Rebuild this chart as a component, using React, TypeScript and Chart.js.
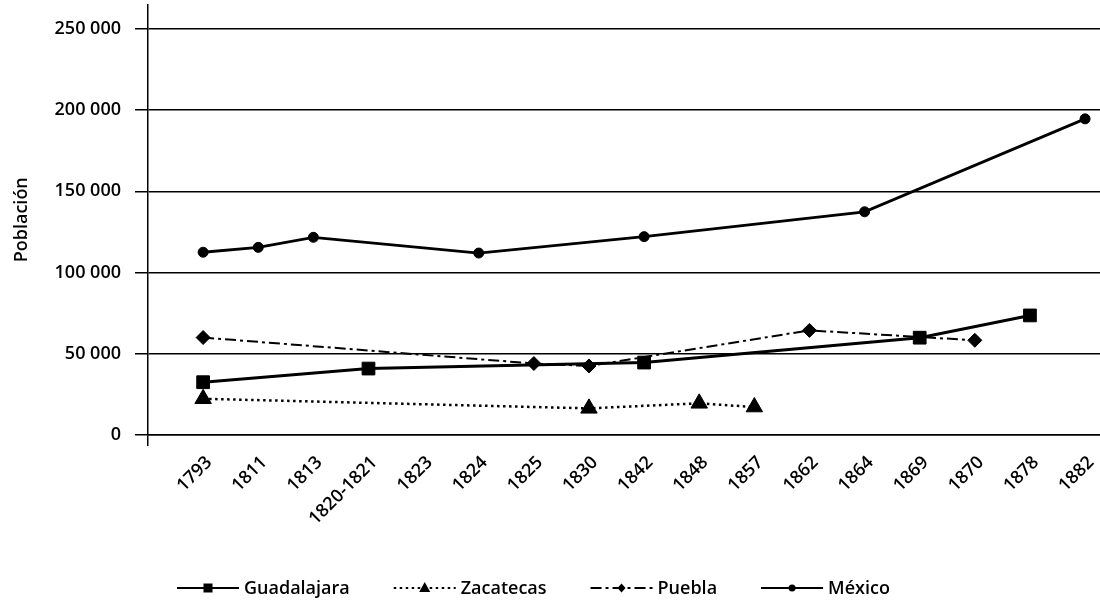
import React, { useEffect, useRef } from 'react';
import { Chart, registerables } from 'chart.js';

Chart.register(...registerables);

const categories = ['1793', '1811', '1813', '1820-1821', '1823', '1824', '1825', '1830', '1842', '1848', '1857', '1862', '1864', '1869', '1870', '1878', '1882'];

const guadalajara = [32500, null, null, 40900, null, null, null, null, 44600, null, null, null, null, 59900, null, 73600, null];
const zacatecas = [22300, null, null, null, null, null, null, 16400, null, 19500, 17200, null, null, null, null, null, null];
const puebla = [60000, null, null, null, null, null, 44000, 42500, null, null, null, 64400, null, null, 58300, null, null];
const mexico = [112500, 115500, 121700, null, null, 112000, null, null, 122100, null, null, null, 137400, null, null, null, 194600];

const seriesNames = ['Guadalajara', 'Zacatecas', 'Puebla', 'México'];
const yTicks = [0, 50000, 100000, 150000, 200000, 250000];
const yAxisTitle = 'Población';

const FONT = '"Open Sans", "Noto Sans", sans-serif';
const FONT_SIZE = 18;
const FONT_WEIGHT = '600';

// canvas is slightly larger than the 1100x605 frame and clipped by it
const CANVAS_W = 1111;
const CANVAS_H = 611;
const CANVAS_SHIFT_Y = -6;

type Sym = { dash: number[]; width: number; marker: 'rect' | 'triangle' | 'rectRot' | 'circle' };
const symbols: Sym[] = [
  { dash: [], width: 3, marker: 'rect' },
  { dash: [2.5, 3.5], width: 2.5, marker: 'triangle' },
  { dash: [11, 4, 3, 4], width: 2, marker: 'rectRot' },
  { dash: [], width: 2.8, marker: 'circle' },
];

function fmt(v: number): string {
  return String(v).replace(/\B(?=(\d{3})+(?!\d))/g, ' ');
}

function toPoints(arr: (number | null)[]) {
  return arr
    .map((v, i) => ({ x: i, y: v }))
    .filter((p) => p.y !== null) as { x: number; y: number }[];
}

function drawMarker(ctx: CanvasRenderingContext2D, kind: Sym['marker'], x: number, y: number) {
  ctx.beginPath();
  if (kind === 'rect') {
    ctx.rect(x - 4.5, y - 4.5, 9, 9);
  } else if (kind === 'triangle') {
    ctx.moveTo(x, y - 6);
    ctx.lineTo(x + 5.5, y + 4);
    ctx.lineTo(x - 5.5, y + 4);
    ctx.closePath();
  } else if (kind === 'rectRot') {
    ctx.moveTo(x, y - 4.5);
    ctx.lineTo(x + 4, y);
    ctx.lineTo(x, y + 4.5);
    ctx.lineTo(x - 4, y);
    ctx.closePath();
  } else {
    ctx.arc(x, y, 3.5, 0, Math.PI * 2);
  }
  ctx.fill();
}

const LEGEND_X = 177;
const LEGEND_Y = 588 - CANVAS_SHIFT_Y;
const SYMBOL_W = 62;
const TEXT_GAP = 5;
const ITEM_GAP = 44;

const refLegend = {
  id: 'refLegend',
  afterDraw(chart: any) {
    const ctx: CanvasRenderingContext2D = chart.ctx;
    ctx.save();
    ctx.font = `${FONT_WEIGHT} ${FONT_SIZE}px ${FONT}`;
    ctx.textBaseline = 'middle';
    ctx.textAlign = 'left';
    let x = LEGEND_X;
    chart.data.datasets.forEach((ds: any, i: number) => {
      const s = symbols[i];
      ctx.strokeStyle = '#000';
      ctx.fillStyle = '#000';
      ctx.lineWidth = Math.min(s.width, 2.2);
      ctx.setLineDash(s.dash);
      ctx.beginPath();
      ctx.moveTo(x, LEGEND_Y);
      ctx.lineTo(x + SYMBOL_W, LEGEND_Y);
      ctx.stroke();
      ctx.setLineDash([]);
      drawMarker(ctx, s.marker, x + SYMBOL_W / 2, LEGEND_Y);
      x += SYMBOL_W + TEXT_GAP;
      ctx.fillText(ds.label, x, LEGEND_Y + 1);
      x += ctx.measureText(ds.label).width + ITEM_GAP;
    });
    ctx.restore();
  },
};

export default function App() {
  const ref = useRef<HTMLCanvasElement | null>(null);

  useEffect(() => {
    if (!ref.current) return;
    Chart.defaults.font.family = FONT;
    Chart.defaults.font.size = FONT_SIZE;
    Chart.defaults.color = '#000';

    const seriesData = [guadalajara, zacatecas, puebla, mexico];
    const pointStyles = ['rect', 'triangle', 'rectRot', 'circle'];
    const pointRadii = [9, 9.5, 7, 5];
    const tickFont = { size: FONT_SIZE, family: FONT, weight: FONT_WEIGHT as any };

    const chart = new Chart(ref.current, {
      type: 'line',
      data: {
        datasets: seriesData.map((arr, i) => ({
          label: seriesNames[i],
          data: toPoints(arr),
          borderColor: '#000',
          backgroundColor: '#000',
          borderWidth: symbols[i].width,
          borderDash: symbols[i].dash,
          pointStyle: pointStyles[i] as any,
          pointRadius: pointRadii[i],
          pointBorderWidth: 1,
          pointBackgroundColor: '#000',
          pointBorderColor: '#000',
          tension: 0,
          spanGaps: true,
          fill: false,
        })),
      },
      options: {
        animation: false,
        responsive: false,
        devicePixelRatio: 1,
        layout: { padding: { top: 5, left: 0, right: 0, bottom: 0 } },
        plugins: {
          legend: { display: false },
          tooltip: { enabled: false },
        },
        scales: {
          x: {
            type: 'linear',
            min: -1,
            max: 16.28,
            afterFit: (scale: any) => {
              scale.height = 170;
            },
            ticks: {
              stepSize: 1,
              autoSkip: false,
              includeBounds: false,
              maxRotation: 45,
              minRotation: 45,
              padding: 6,
              labelOffset: 6,
              color: '#000',
              font: tickFont,
              callback: (v: any) => {
                const i = Math.round(Number(v));
                return categories[i] ?? '';
              },
            },
            grid: {
              drawOnChartArea: false,
              drawTicks: true,
              tickLength: 11,
              lineWidth: 1.5,
              color: (ctx: any) => (ctx.tick && Math.round(ctx.tick.value) === -1 ? '#000' : 'rgba(0,0,0,0)'),
            },
            border: { display: true, color: '#000', width: 1.5 },
          },
          y: {
            min: 0,
            max: 265000,
            afterFit: (scale: any) => {
              scale.width = 148;
              scale.paddingTop = 0;
              scale.paddingBottom = 0;
            },
            afterBuildTicks: (scale: any) => {
              scale.ticks = yTicks.map((v) => ({ value: v }));
            },
            ticks: {
              padding: 14,
              color: '#000',
              font: tickFont,
              callback: (v: any) => fmt(Number(v)),
            },
            grid: {
              color: '#000',
              lineWidth: 1.5,
              drawTicks: true,
              tickLength: 13,
            },
            border: { display: true, color: '#000', width: 1.5 },
            title: {
              display: true,
              text: yAxisTitle,
              color: '#000',
              font: tickFont,
              padding: { top: 11, bottom: 0 },
            },
          },
        },
      },
      plugins: [refLegend],
    });
    return () => chart.destroy();
  }, []);

  return (
    <div style={{ position: 'absolute', left: 0, top: 0, width: 1100, height: 605, overflow: 'hidden', background: '#fff' }}>
      <canvas
        ref={ref}
        width={CANVAS_W}
        height={CANVAS_H}
        style={{ position: 'absolute', left: 0, top: CANVAS_SHIFT_Y, width: CANVAS_W, height: CANVAS_H }}
      />
    </div>
  );
}
